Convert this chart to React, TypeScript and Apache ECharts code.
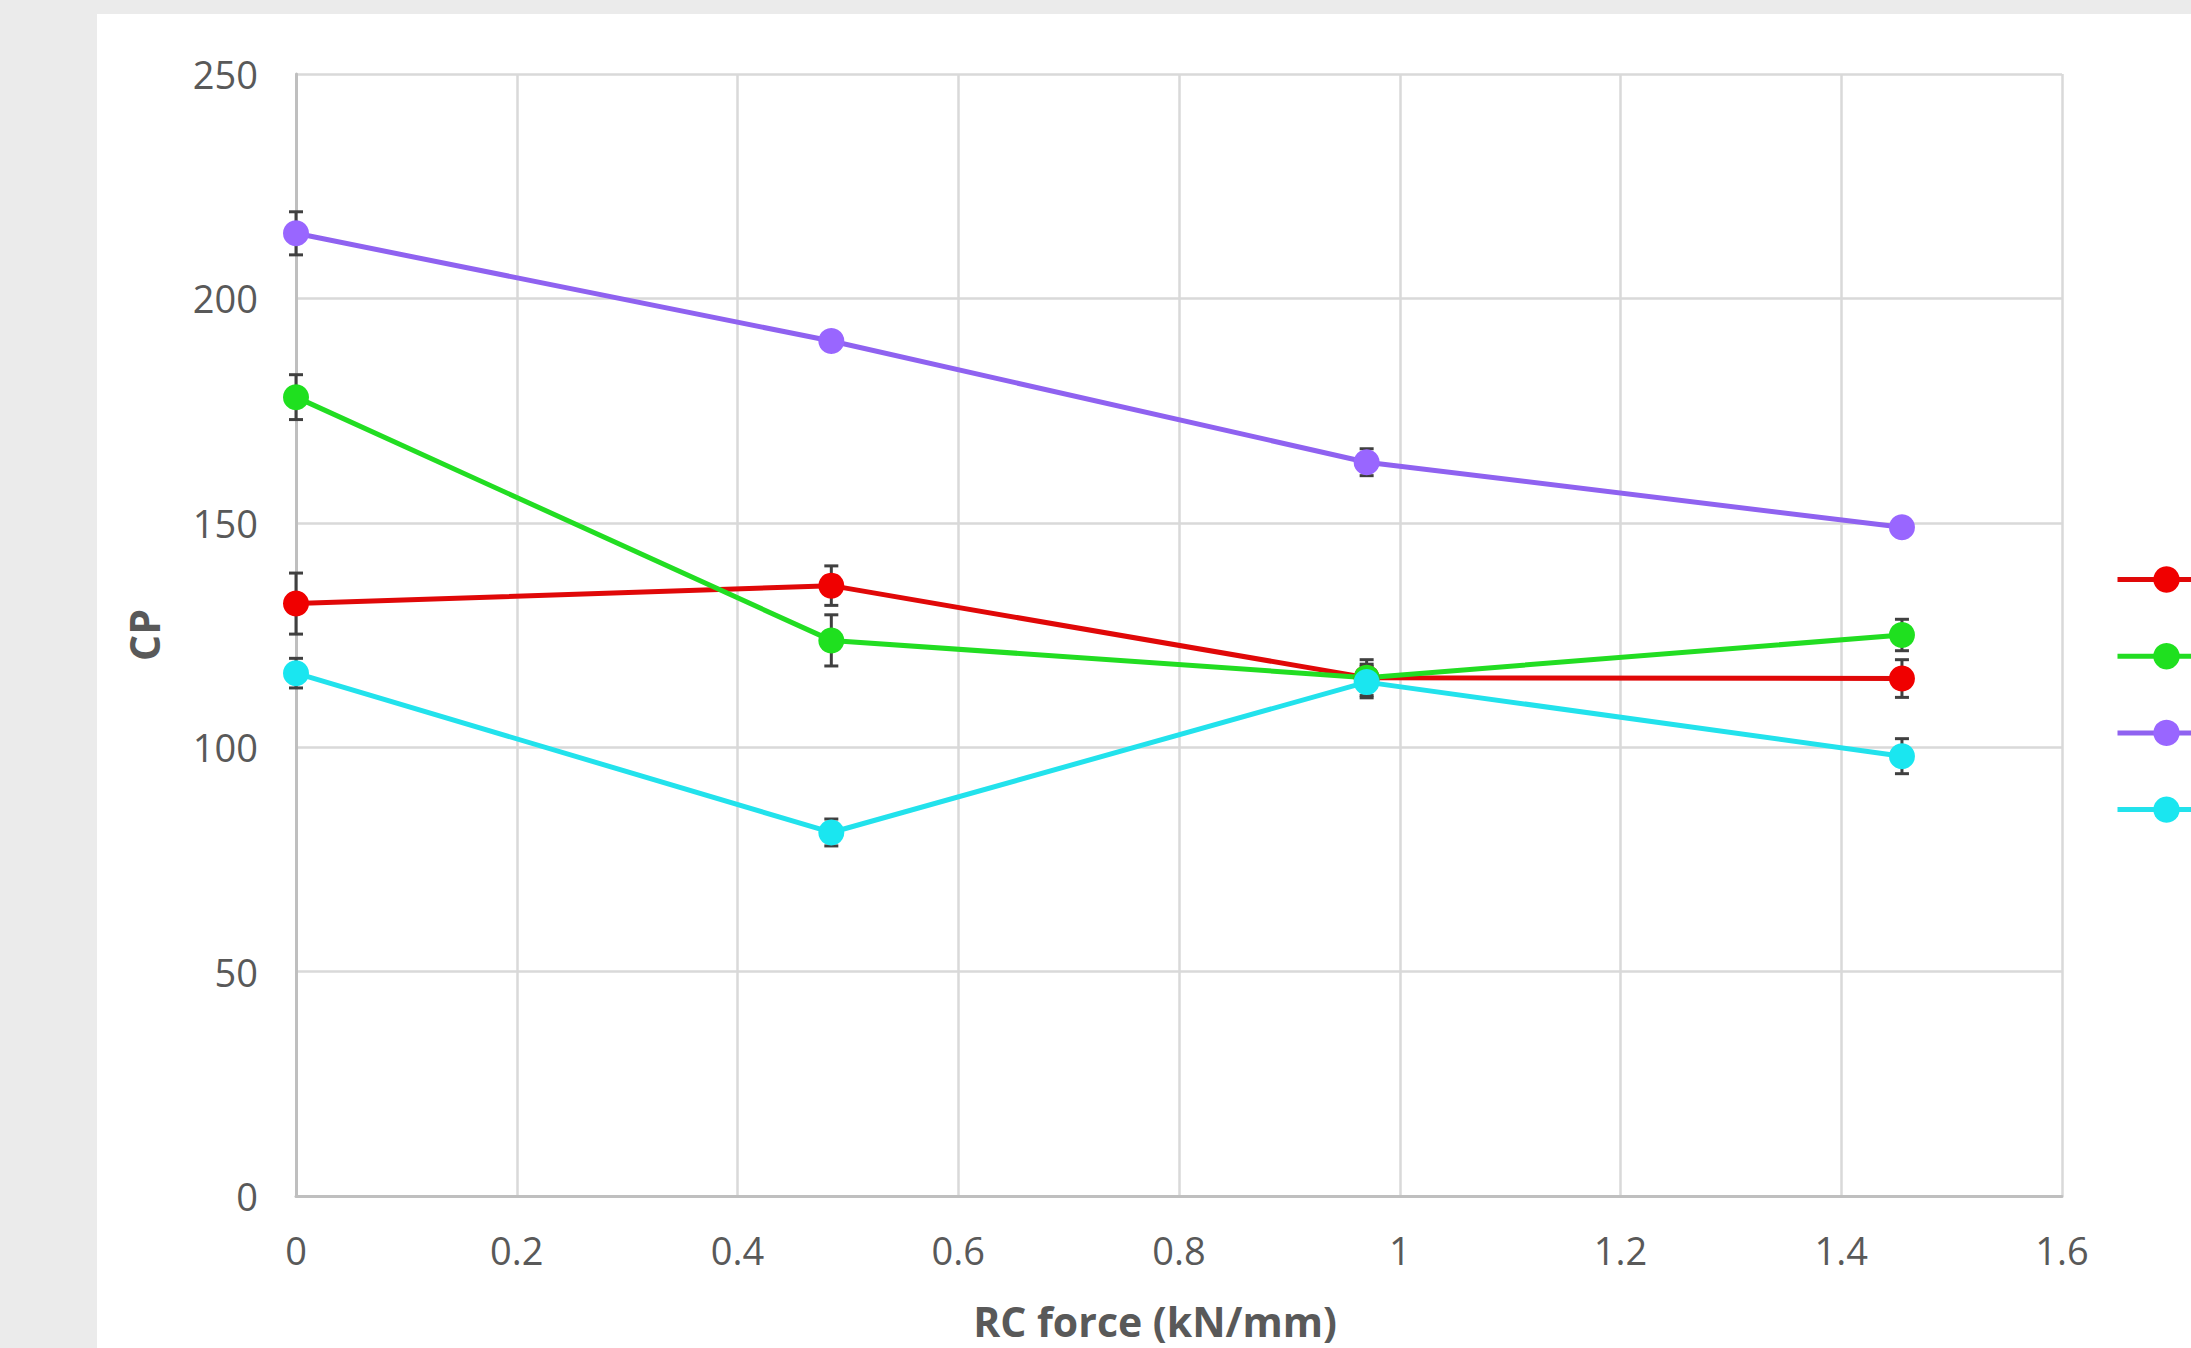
import React, { useEffect, useRef } from "react";
import * as echarts from "echarts";

const forceX = [0, 0.485, 0.97, 1.455];
const seriesNames = ["Series 1", "Series 2", "Series 3", "Series 4"];
const redValues = [132, 136, 115.5, 115.3];
const greenValues = [178, 123.8, 115.5, 125];
const purpleValues = [214.5, 190.5, 163.5, 149];
const cyanValues = [116.5, 81, 114.5, 98];
const redErr = [6.8, 4.4, 3, 4.2];
const greenErr = [5, 5.7, 4, 3.5];
const purpleErr = [4.8, 1.5, 3, 1];
const cyanErr = [3.3, 3, 3.5, 3.9];
const xTicks = { min: 0, max: 1.6, interval: 0.2 };
const yTicks = { min: 0, max: 250, interval: 50 };

const colors = ["#f00000", "#1fe01f", "#9966ff", "#1ae6f0"];
const lineColors = ["#e00808", "#22dd22", "#8f62f0", "#22e2ec"];

export default function App() {
  const ref = useRef<HTMLDivElement>(null);
  useEffect(() => {
    if (!ref.current) return;
    const chart = echarts.init(ref.current, undefined, { renderer: "svg" });
    const allValues = [redValues, greenValues, purpleValues, cyanValues];
    const allErr = [redErr, greenErr, purpleErr, cyanErr];
    const lineSeries = allValues.map((vals, i) => ({
      type: "line",
      name: seriesNames[i],
      data: vals.map((v, j) => [forceX[j], v]),
      symbol: "circle",
      symbolSize: 26,
      z: 3,
      lineStyle: { color: lineColors[i], width: 5 },
      itemStyle: { color: colors[i] },
    }));
    const errSeries = allValues.map((vals, i) => ({
      type: "custom",
      z: 2,
      silent: true,
      encode: { x: 0, y: [1, 2] },
      data: vals.map((v, j) => [forceX[j], v - allErr[i][j], v + allErr[i][j]]),
      renderItem: (params: any, api: any) => {
        const x = api.value(0);
        const top = api.coord([x, api.value(2)]);
        const bot = api.coord([x, api.value(1)]);
        const w = 7;
        const st = { stroke: "#404040", lineWidth: 3 };
        return {
          type: "group",
          children: [
            { type: "line", shape: { x1: top[0], y1: top[1], x2: bot[0], y2: bot[1] }, style: st },
            { type: "line", shape: { x1: top[0] - w, y1: top[1], x2: top[0] + w, y2: top[1] }, style: st },
            { type: "line", shape: { x1: bot[0] - w, y1: bot[1], x2: bot[0] + w, y2: bot[1] }, style: st },
          ],
        };
      },
    }));
    chart.setOption({
      animation: false,
      backgroundColor: "#ffffff",
      textStyle: { fontFamily: "Open Sans" },
      grid: { left: 199, top: 60, right: 335, bottom: 152 },
      legend: {
        data: seriesNames,
        orient: "vertical",
        left: 2013,
        top: 544,
        itemWidth: 98,
        itemHeight: 33,
        itemGap: 47,
        formatter: () => "",
        selectedMode: false,
        lineStyle: { width: 5 },
      },
      xAxis: {
        type: "value",
        min: xTicks.min,
        max: xTicks.max,
        interval: xTicks.interval,
        name: "RC force (kN/mm)",
        nameLocation: "middle",
        nameGap: 104,
        nameTextStyle: { fontSize: 41, fontWeight: "bold", color: "#595959", fontFamily: "Open Sans", padding: [0, 48, 0, 0] },
        axisLine: { show: true, lineStyle: { color: "#bfbfbf", width: 3 } },
        axisTick: { show: false },
        axisLabel: { fontSize: 38, color: "#595959", margin: 35, fontFamily: "Open Sans" },
        splitLine: { show: true, lineStyle: { color: "#d9d9d9", width: 2.5 } },
      },
      yAxis: {
        type: "value",
        min: yTicks.min,
        max: yTicks.max,
        interval: yTicks.interval,
        name: "CP",
        nameLocation: "middle",
        nameGap: 132,
        nameTextStyle: { fontSize: 41, fontWeight: "bold", color: "#595959", fontFamily: "Open Sans" },
        axisLine: { show: true, lineStyle: { color: "#bfbfbf", width: 3 } },
        axisTick: { show: false },
        axisLabel: { fontSize: 38, color: "#595959", margin: 38, fontFamily: "Open Sans" },
        splitLine: { show: true, lineStyle: { color: "#d9d9d9", width: 2.5 } },
      },
      series: [...errSeries, ...lineSeries],
    } as any);
    return () => chart.dispose();
  }, []);
  return (
    <div style={{ position: "fixed", left: 0, top: 0, width: 2191, height: 1348, overflow: "hidden", background: "#ebebeb" }}>
      <div ref={ref} style={{ position: "absolute", left: 97, top: 14, width: 2300, height: 1334, background: "#ffffff" }} />
    </div>
  );
}
